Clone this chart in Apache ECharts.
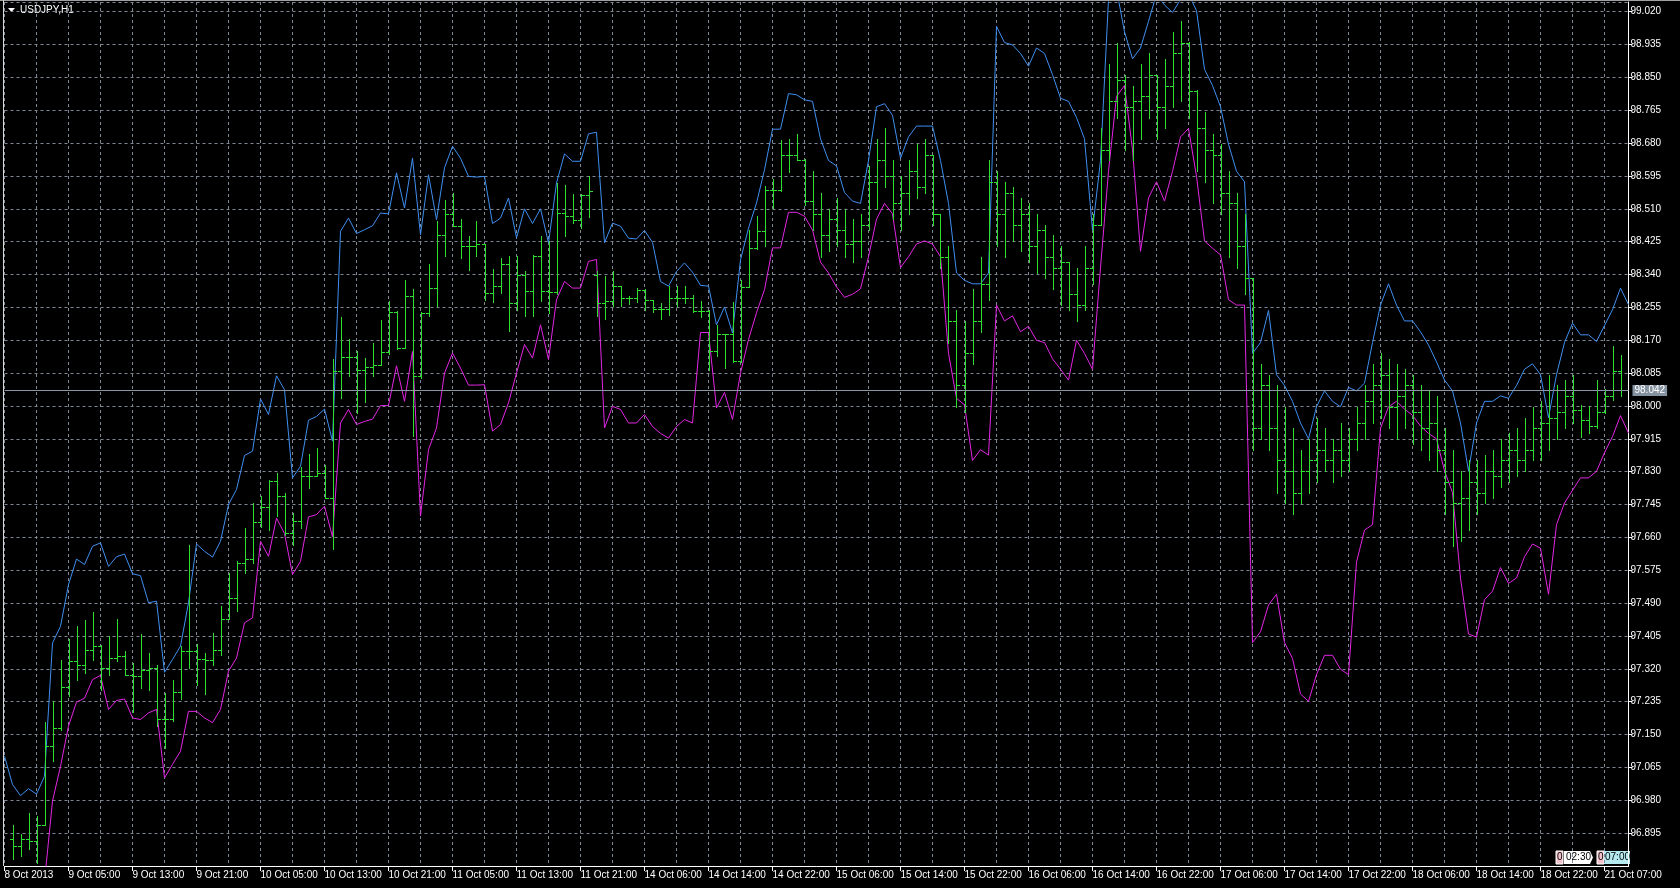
<!DOCTYPE html>
<html><head><meta charset="utf-8">
<script src="https://cdn.jsdelivr.net/npm/echarts@6/dist/echarts.min.js"></script>
<style>html,body{margin:0;padding:0;background:#000;}#c{width:1680px;height:888px;}</style>
</head><body><div id="c"></div>
<script>
// ---- data ----
const symbolTitle = 'USDJPY,H1';
const tickLabels = ['8 Oct 2013','9 Oct 05:00','9 Oct 13:00','9 Oct 21:00','10 Oct 05:00','10 Oct 13:00','10 Oct 21:00','11 Oct 05:00','11 Oct 13:00','11 Oct 21:00','14 Oct 06:00','14 Oct 14:00','14 Oct 22:00','15 Oct 06:00','15 Oct 14:00','15 Oct 22:00','16 Oct 06:00','16 Oct 14:00','16 Oct 22:00','17 Oct 06:00','17 Oct 14:00','17 Oct 22:00','18 Oct 06:00','18 Oct 14:00','18 Oct 22:00','21 Oct 07:00'];
const lastPrice = 98.042;

// bar 0 sits under the left frame and is not visible (null)
const opens = [null,96.880,96.861,96.880,96.874,96.917,97.120,97.167,97.273,97.340,97.329,97.370,97.380,97.322,97.348,97.353,97.305,97.301,97.318,97.321,97.189,97.189,97.260,97.366,97.366,97.346,97.344,97.370,97.450,97.504,97.594,97.603,97.700,97.739,97.805,97.766,97.672,97.702,97.820,97.820,97.827,97.762,98.090,98.127,98.127,98.094,98.101,98.107,98.139,98.242,98.150,98.284,98.077,98.241,98.305,98.443,98.497,98.465,98.415,98.415,98.420,98.292,98.311,98.368,98.266,98.340,98.297,98.389,98.297,98.294,98.499,98.491,98.482,98.546,98.340,98.266,98.271,98.311,98.279,98.279,98.301,98.273,98.251,98.251,98.279,98.279,98.279,98.245,98.245,98.141,98.185,98.185,98.116,98.308,98.409,98.452,98.559,98.559,98.650,98.650,98.637,98.529,98.497,98.441,98.483,98.455,98.419,98.427,98.469,98.580,98.635,98.594,98.524,98.552,98.607,98.566,98.649,98.497,98.386,98.220,98.053,98.136,98.220,98.316,98.580,98.497,98.552,98.469,98.497,98.413,98.455,98.386,98.358,98.372,98.289,98.261,98.358,98.469,98.663,98.788,98.843,98.774,98.788,98.801,98.857,98.774,98.829,98.912,98.940,98.815,98.718,98.663,98.649,98.552,98.524,98.413,98.330,97.942,98.053,97.942,97.859,97.832,97.776,97.832,97.859,97.887,97.859,97.887,97.859,97.915,97.956,98.012,98.053,98.081,97.998,98.026,98.053,97.984,97.942,97.956,97.887,97.804,97.749,97.762,97.804,97.776,97.832,97.818,97.859,97.887,97.859,97.887,97.942,97.956,97.970,97.984,98.026,97.990,97.965,97.947,97.984,98.025,98.090];
const highs = [null,96.917,96.894,96.948,96.939,97.182,97.236,97.342,97.398,97.432,97.447,97.467,97.382,97.404,97.450,97.366,97.334,97.410,97.360,97.329,97.258,97.290,97.379,97.641,97.383,97.361,97.413,97.482,97.568,97.598,97.685,97.749,97.768,97.808,97.827,97.775,97.723,97.842,97.877,97.891,97.848,98.122,98.230,98.173,98.143,98.124,98.163,98.222,98.271,98.245,98.327,98.303,98.242,98.366,98.478,98.534,98.551,98.484,98.439,98.478,98.420,98.354,98.383,98.389,98.389,98.348,98.391,98.439,98.426,98.577,98.572,98.549,98.549,98.594,98.348,98.335,98.348,98.311,98.284,98.305,98.303,98.275,98.266,98.311,98.311,98.311,98.288,98.271,98.249,98.210,98.187,98.268,98.327,98.454,98.492,98.568,98.587,98.689,98.690,98.704,98.640,98.607,98.552,98.510,98.538,98.510,98.483,98.497,98.621,98.691,98.718,98.635,98.594,98.635,98.677,98.691,98.650,98.497,98.413,98.247,98.220,98.303,98.386,98.635,98.607,98.580,98.566,98.538,98.524,98.497,98.469,98.441,98.413,98.372,98.358,98.413,98.497,98.718,98.885,98.940,98.857,98.829,98.885,98.912,98.857,98.898,98.968,98.995,98.942,98.818,98.760,98.704,98.677,98.607,98.552,98.497,98.332,98.109,98.081,98.053,97.998,97.942,97.887,97.915,97.970,97.942,97.915,97.956,97.942,97.998,98.053,98.109,98.136,98.122,98.109,98.095,98.081,98.053,98.039,98.026,97.942,97.887,97.832,97.859,97.859,97.873,97.887,97.915,97.929,97.942,97.970,97.998,98.012,98.081,98.053,98.067,98.081,98.003,98.001,98.068,98.044,98.156,98.133];
const lows = [null,96.829,96.835,96.853,96.818,96.917,97.081,97.163,97.249,97.292,97.310,97.344,97.266,97.305,97.340,97.305,97.209,97.271,97.266,97.172,97.116,97.185,97.241,97.322,97.279,97.254,97.331,97.357,97.448,97.469,97.568,97.594,97.687,97.680,97.715,97.667,97.641,97.685,97.788,97.818,97.762,97.629,98.021,98.077,97.982,98.010,98.078,98.105,98.135,98.147,98.150,97.922,98.072,98.232,98.258,98.387,98.465,98.383,98.353,98.387,98.275,98.268,98.292,98.193,98.249,98.232,98.232,98.271,98.241,98.290,98.439,98.473,98.460,98.488,98.232,98.225,98.258,98.258,98.265,98.268,98.247,98.242,98.225,98.236,98.258,98.266,98.242,98.230,98.094,98.128,98.098,98.113,98.113,98.308,98.405,98.413,98.512,98.555,98.604,98.635,98.521,98.455,98.386,98.400,98.413,98.386,98.372,98.386,98.455,98.510,98.566,98.483,98.455,98.497,98.538,98.552,98.469,98.358,98.164,97.998,97.984,98.109,98.192,98.275,98.413,98.386,98.427,98.400,98.372,98.344,98.330,98.303,98.261,98.247,98.220,98.247,98.316,98.469,98.635,98.746,98.663,98.635,98.691,98.746,98.691,98.718,98.774,98.788,98.746,98.607,98.580,98.524,98.497,98.386,98.358,98.289,97.887,97.915,97.887,97.776,97.749,97.721,97.749,97.776,97.804,97.832,97.804,97.818,97.832,97.887,97.915,97.956,97.970,97.942,97.915,97.942,97.901,97.887,97.859,97.832,97.721,97.638,97.651,97.679,97.721,97.749,97.762,97.790,97.804,97.818,97.832,97.859,97.859,97.887,97.915,97.942,97.956,97.921,97.930,97.943,97.982,98.016,98.025];
const closes = [null,96.861,96.880,96.874,96.917,97.120,97.167,97.273,97.340,97.329,97.370,97.380,97.322,97.348,97.353,97.305,97.301,97.318,97.321,97.189,97.189,97.260,97.366,97.366,97.346,97.344,97.370,97.450,97.504,97.594,97.603,97.700,97.739,97.805,97.766,97.672,97.702,97.820,97.820,97.827,97.762,98.090,98.127,98.127,98.094,98.101,98.107,98.139,98.242,98.150,98.284,98.077,98.241,98.305,98.443,98.497,98.465,98.415,98.415,98.420,98.292,98.311,98.368,98.266,98.340,98.297,98.389,98.297,98.294,98.499,98.491,98.482,98.546,98.555,98.266,98.271,98.311,98.279,98.279,98.301,98.273,98.251,98.251,98.279,98.279,98.279,98.245,98.245,98.141,98.185,98.185,98.116,98.308,98.409,98.452,98.559,98.559,98.650,98.650,98.637,98.529,98.497,98.441,98.483,98.455,98.419,98.427,98.469,98.580,98.635,98.594,98.524,98.552,98.607,98.566,98.649,98.497,98.386,98.220,98.053,98.136,98.220,98.316,98.580,98.497,98.552,98.469,98.497,98.413,98.455,98.386,98.358,98.372,98.289,98.261,98.358,98.469,98.663,98.788,98.843,98.774,98.788,98.801,98.857,98.774,98.829,98.912,98.940,98.815,98.718,98.663,98.649,98.552,98.524,98.413,98.330,97.942,98.053,97.942,97.859,97.832,97.776,97.832,97.859,97.887,97.859,97.887,97.859,97.915,97.956,98.012,98.053,98.081,97.998,98.026,98.053,97.984,97.942,97.956,97.887,97.804,97.749,97.762,97.804,97.776,97.832,97.818,97.859,97.887,97.859,97.887,97.942,97.956,97.970,97.984,98.026,97.990,97.965,97.947,97.984,98.025,98.090,98.042];
const upperBand = [97.094,97.021,96.992,97.010,96.996,97.042,97.387,97.430,97.538,97.604,97.590,97.637,97.646,97.585,97.610,97.617,97.566,97.561,97.491,97.495,97.311,97.344,97.379,97.491,97.643,97.624,97.609,97.650,97.745,97.784,97.872,97.883,98.018,97.978,98.078,98.042,97.814,97.844,97.963,97.973,97.992,97.909,98.452,98.486,98.446,98.456,98.466,98.499,98.497,98.603,98.512,98.641,98.443,98.598,98.482,98.616,98.672,98.641,98.594,98.592,98.594,98.472,98.486,98.538,98.435,98.510,98.472,98.510,98.422,98.577,98.652,98.633,98.633,98.704,98.708,98.422,98.473,98.465,98.434,98.432,98.454,98.423,98.322,98.310,98.348,98.370,98.346,98.312,98.310,98.210,98.256,98.189,98.378,98.460,98.525,98.611,98.716,98.716,98.808,98.805,98.792,98.788,98.691,98.635,98.621,98.552,98.530,98.524,98.635,98.774,98.782,98.752,98.641,98.696,98.724,98.724,98.724,98.635,98.524,98.344,98.325,98.316,98.316,98.344,98.982,98.940,98.934,98.912,98.879,98.926,98.912,98.857,98.796,98.788,98.746,98.691,98.455,98.635,99.051,99.078,98.968,98.898,98.926,98.995,99.065,99.037,99.018,99.051,99.065,99.023,98.871,98.829,98.774,98.677,98.607,98.580,98.136,98.164,98.247,98.081,98.053,98.012,97.956,97.915,97.998,98.039,98.012,97.998,98.048,98.039,98.059,98.164,98.261,98.316,98.261,98.220,98.220,98.192,98.158,98.114,98.067,98.039,97.956,97.832,97.956,98.012,98.012,98.026,98.020,98.053,98.095,98.109,98.081,97.970,98.081,98.164,98.214,98.184,98.184,98.167,98.208,98.249,98.305,98.262];
const lowerBand = [96.600,96.620,96.640,96.660,96.700,96.770,96.978,97.068,97.172,97.234,97.244,97.292,97.303,97.215,97.238,97.242,97.193,97.189,97.206,97.215,97.038,97.073,97.107,97.210,97.210,97.193,97.181,97.215,97.314,97.348,97.439,97.452,97.650,97.611,97.710,97.670,97.564,97.598,97.713,97.719,97.741,97.661,97.956,97.991,97.952,97.960,97.966,98.001,98.001,98.104,98.012,98.141,97.715,97.887,97.943,98.085,98.137,98.098,98.054,98.054,98.055,97.935,97.952,98.008,98.085,98.159,98.124,98.210,98.120,98.275,98.322,98.305,98.305,98.374,98.379,97.943,97.999,97.991,97.956,97.956,97.978,97.947,97.929,97.917,97.947,97.965,97.956,98.190,98.190,97.995,98.035,97.965,98.085,98.172,98.241,98.301,98.409,98.409,98.501,98.501,98.491,98.455,98.372,98.344,98.308,98.281,98.289,98.303,98.386,98.483,98.524,98.497,98.358,98.386,98.419,98.427,98.419,98.386,98.136,98.020,98.003,97.859,97.887,97.873,98.261,98.220,98.233,98.192,98.206,98.170,98.164,98.122,98.095,98.067,98.170,98.136,98.095,98.358,98.607,98.801,98.829,98.663,98.400,98.538,98.580,98.530,98.607,98.696,98.718,98.594,98.427,98.408,98.391,98.275,98.261,98.261,97.388,97.416,97.485,97.513,97.388,97.347,97.255,97.236,97.305,97.355,97.355,97.319,97.305,97.596,97.679,97.693,97.942,97.998,98.012,97.992,97.976,97.948,97.929,97.915,97.832,97.776,97.555,97.410,97.402,97.499,97.521,97.582,97.541,97.555,97.610,97.643,97.632,97.513,97.693,97.749,97.782,97.814,97.814,97.831,97.879,97.921,97.975,97.930];

// ---- presentation ----
const N_SLOTS = 204;            // bar slots visible in the window
const categories = Array.from({length: N_SLOTS}, (_, i) => String(i));
const BAR = '#2ee02e', BLUE = '#3f8ff0', MAG = '#e326e3', GRID = '#7d8894', FG = '#ffffff';
const FONT = 'Liberation Sans';

const ohlc = [];
opens.forEach((o, i) => { if (o !== null) ohlc.push([i, o, highs[i], lows[i], closes[i]]); });

function renderBar(params, api) {
  const i = api.value(0);
  const pH = api.coord([i, api.value(2)]);
  const pL = api.coord([i, api.value(3)]);
  const pO = api.coord([i, api.value(1)]);
  const pC = api.coord([i, api.value(4)]);
  const cx = Math.round(pH[0]);
  const style = {stroke: BAR, lineWidth: 1};
  const yH = Math.round(pH[1]), yL = Math.round(pL[1]);
  const yO = Math.round(pO[1]) + 0.5, yC = Math.round(pC[1]) + 0.5;
  return {type: 'group', children: [
    {type: 'line', shape: {x1: cx + 0.5, y1: yH, x2: cx + 0.5, y2: yL + 1}, style},
    {type: 'line', shape: {x1: cx - 3, y1: yO, x2: cx, y2: yO}, style},
    {type: 'line', shape: {x1: cx + 1, y1: yC, x2: cx + 4, y2: yC}, style}
  ]};
}

const chart = echarts.init(document.getElementById('c'), null, {renderer: 'canvas'});
chart.setOption({
  backgroundColor: '#000000',
  animation: false,
  textStyle: {fontFamily: FONT},
  grid: {left: 4.5, right: 51.5, top: 2, bottom: 22, containLabel: false},
  xAxis: {
    type: 'category', data: categories, boundaryGap: false,
    axisLine: {show: true, lineStyle: {color: FG, width: 1}},
    axisTick: {show: true, interval: 7, length: 5, lineStyle: {color: FG}},
    axisLabel: {
      show: true, interval: 7, color: FG, fontSize: 10, fontFamily: FONT, align: 'left', margin: 4,
      formatter: (v, idx) => tickLabels[idx / 8] || ''
    },
    splitLine: {show: true, interval: 3, lineStyle: {color: GRID, type: [3, 3], width: 1}}
  },
  yAxis: {
    type: 'value', position: 'right', min: 96.810, max: 99.045, interval: 0.085, scale: true,
    axisLine: {show: true, lineStyle: {color: FG, width: 1}},
    axisTick: {show: true, length: 4, lineStyle: {color: FG}},
    axisLabel: {show: true, color: FG, fontSize: 10, fontFamily: FONT, margin: 2,
      showMinLabel: false, showMaxLabel: false, formatter: v => v.toFixed(3)},
    splitLine: {show: true, lineStyle: {color: GRID, type: [3, 3], width: 1}}
  },
  series: [
    {type: 'line', data: upperBand, showSymbol: false, symbol: 'none', lineStyle: {color: BLUE, width: 1}, clip: true, z: 3,
     markLine: {silent: true, symbol: ['none', 'none'], animation: false,
       data: [{yAxis: lastPrice}],
       lineStyle: {color: '#8a96a3', type: 'solid', width: 1},
       label: {show: true, position: 'end', distance: 4, formatter: lastPrice.toFixed(3), color: '#ffffff',
         backgroundColor: '#8593a1', padding: [1, 2, 0, 2], fontSize: 10, fontFamily: FONT}}},
    {type: 'line', data: lowerBand, showSymbol: false, symbol: 'none', lineStyle: {color: MAG, width: 1}, clip: true, z: 3},
    {type: 'custom', data: ohlc, renderItem: renderBar, clip: true, z: 4, encode: {x: 0, y: [1, 2, 3, 4]}}
  ],
  graphic: [
    {type: 'line', shape: {x1: 0, y1: 0.5, x2: 1680, y2: 0.5}, style: {stroke: '#a0a0a0', lineWidth: 1}},
    {type: 'line', shape: {x1: 3.5, y1: 0, x2: 3.5, y2: 866}, style: {stroke: '#d8d8d8', lineWidth: 1}},
    {type: 'polygon', shape: {points: [[8, 8], [15, 8], [11.5, 12]]}, style: {fill: FG}},
    {type: 'text', left: 20, top: 5, style: {text: symbolTitle, fill: FG, font: '10px ' + FONT}},
    // bottom-right info boxes
    {type: 'rect', shape: {x: 1556, y: 851, width: 7, height: 13}, style: {fill: '#f4c2cc', stroke: '#ffffff', lineWidth: 1}},
    {type: 'text', x: 1557, y: 852, style: {text: '0', fill: '#000', font: '10px ' + FONT}},
    {type: 'polygon', shape: {points: [[1564, 851], [1590, 851], [1593, 857.5], [1590, 864], [1564, 864]]}, style: {fill: '#ffffff'}},
    {type: 'text', x: 1566, y: 852, style: {text: '02:30', fill: '#000', font: '10px ' + FONT}},
    {type: 'rect', shape: {x: 1597, y: 851, width: 7, height: 13}, style: {fill: '#f4c2cc', stroke: '#ffffff', lineWidth: 1}},
    {type: 'text', x: 1598, y: 852, style: {text: '0', fill: '#000', font: '10px ' + FONT}},
    {type: 'rect', shape: {x: 1604, y: 851, width: 26, height: 13}, style: {fill: '#b4eaf0'}},
    {type: 'text', x: 1605, y: 852, style: {text: '07:00', fill: '#000', font: '10px ' + FONT}}
  ]
});
</script></body></html>
